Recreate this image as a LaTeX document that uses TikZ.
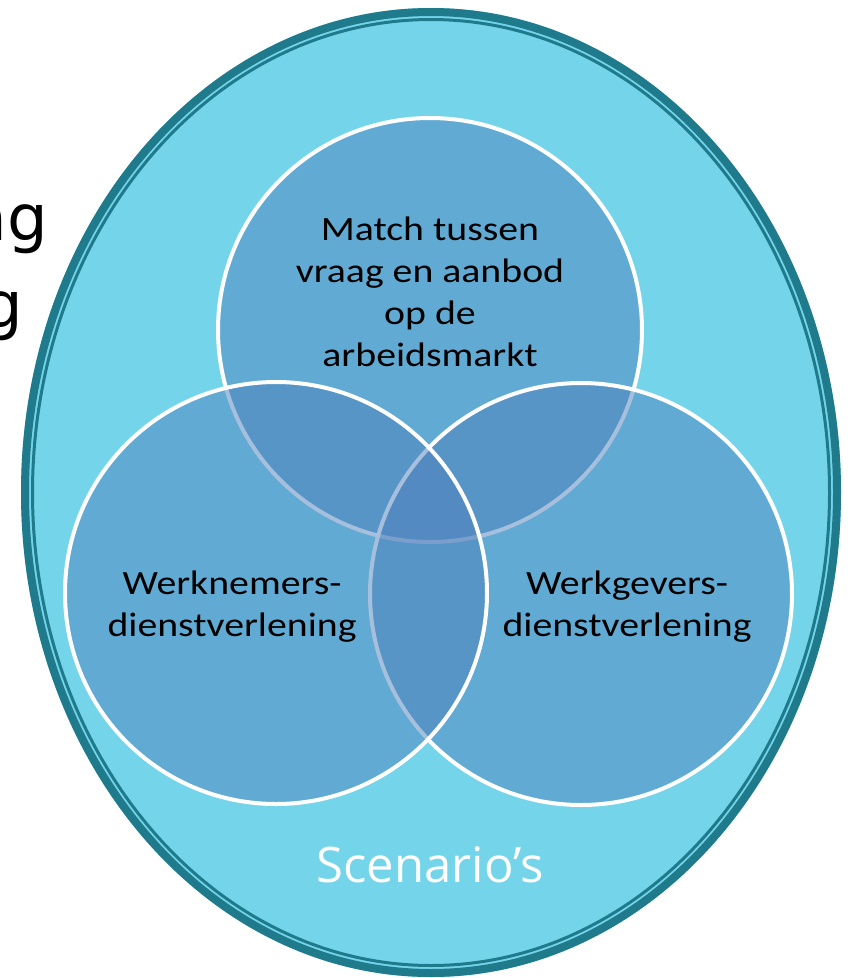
\documentclass[tikz,border=0pt]{standalone}
\usepackage{fontspec}
\setmainfont{Carlito}[FakeStretch=1.17]
\newfontfamily\scenfont{Open Sans}
\newfontfamily\fragfont{DejaVu Sans}
\definecolor{outerfill}{RGB}{116,213,234}
\definecolor{outerline}{RGB}{31,122,140}
\definecolor{circblue}{RGB}{79,129,189}
\tikzset{
  venn/.style={circle, inner sep=0pt, minimum size=422pt, fill=circblue, fill opacity=0.5, draw=white, line width=4pt},
  lbl/.style={align=center, font=\fontsize{34}{42}\selectfont, text=black},
  frag/.style={font=\fragfont\fontsize{64}{84}\selectfont, text=black, inner sep=0pt}
}
\begin{document}
\begin{tikzpicture}[x=1pt,y=-1pt]
\useasboundingbox (0,0) rectangle (848,978);
\fill[white] (0,0) rectangle (848,978);
% fragments of text from behind
\node[frag, anchor=base east] (fragA) at (48,240) {ng};
\node[frag, anchor=base east] (fragB) at (23,327) {g};
% outer ellipse
\fill[outerfill] (431,492.5) ellipse [x radius=410, y radius=484.5];
\draw[outerline, line width=8pt] (431,492.5) ellipse [x radius=406, y radius=480.5];
\draw[outerline, line width=3pt] (431,492.5) ellipse [x radius=398.5, y radius=473];
% circles
\node[venn, minimum size=424pt] (top) at (430,330) {};
\node[venn] (right) at (581,594) {};
\node[venn] (left) at (276,593) {};
% labels
\node[lbl] (toplbl) at (430,292) {Match tussen\\vraag en aanbod\\op de\\arbeidsmarkt};
\node[lbl] (leftlbl) at (232,607) {Werknemers-\\dienstverlening};
\node[lbl] (rightlbl) at (627,607) {Werkgevers-\\dienstverlening};
\node[font=\scenfont\fontsize{49}{56}\selectfont, text=white, anchor=base] (scen) at (430,882) {Scenario’s};
\end{tikzpicture}
\end{document}
